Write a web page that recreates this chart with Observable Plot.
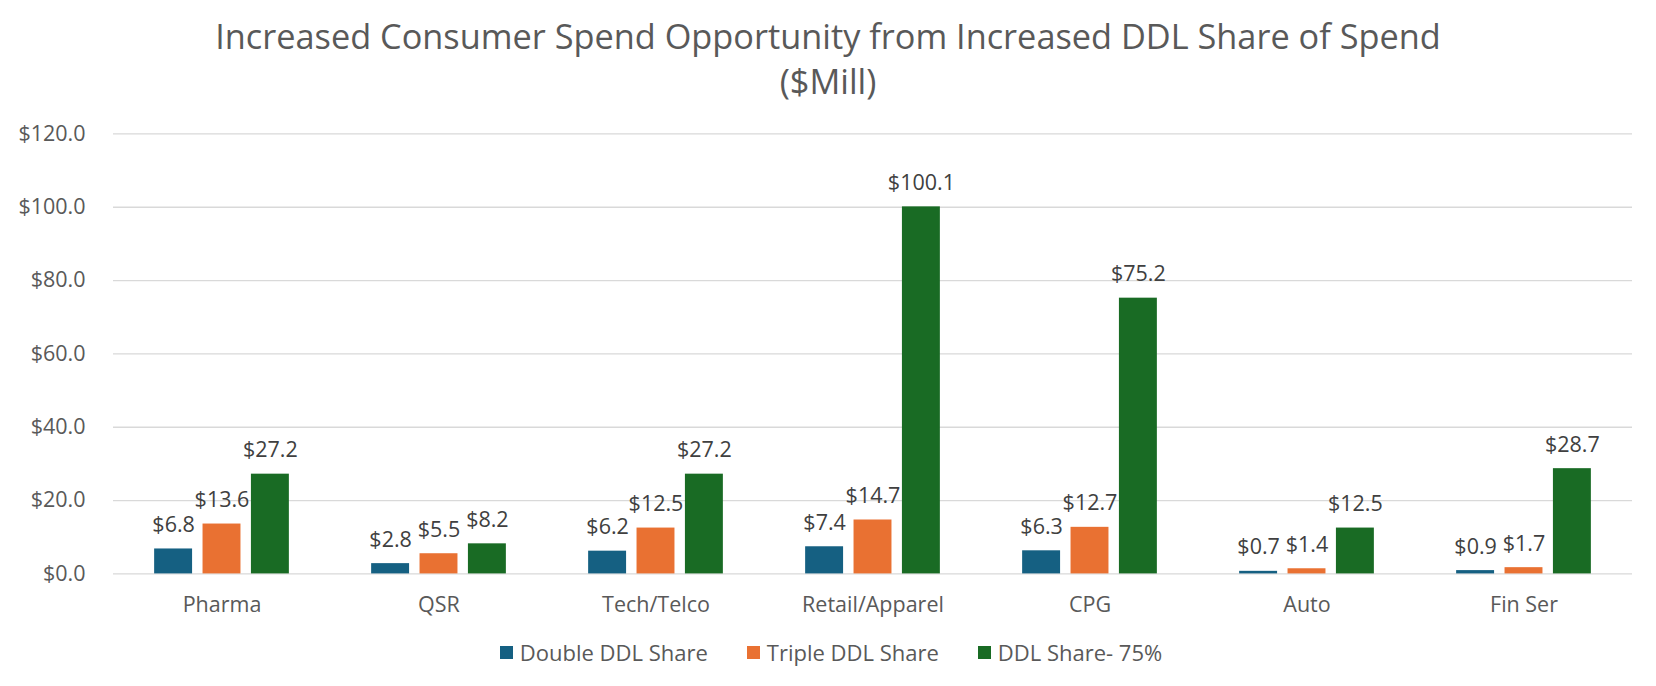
<!DOCTYPE html>
<html><head><meta charset="utf-8">
<script src="https://cdn.jsdelivr.net/npm/d3@7"></script>
<script src="https://cdn.jsdelivr.net/npm/@observablehq/plot@0.6"></script>
<style>
body{margin:0;background:#fff;font-family:"Open Sans",sans-serif;}
#wrap{width:1656px;height:686px;position:relative;overflow:hidden;background:#fff}
#title{position:absolute;left:0;top:13px;width:1656px;text-align:center;font-size:34.3px;line-height:45px;color:#595959}
#chart{position:absolute;left:0;top:110px}
#legend{position:absolute;left:3px;top:640px;width:1656px;display:flex;justify-content:center;gap:39px;font-size:22px;color:#595959;line-height:24px}
.item{display:flex;align-items:center;white-space:pre}
.sw{width:13px;height:13px;margin-right:7px}
</style></head><body>
<div id="wrap">
<div id="title">Increased Consumer Spend Opportunity from Increased DDL Share of Spend<br>($Mill)</div>
<div id="chart"></div>
<div id="legend"></div>
</div>
<script>
const categories = ["Pharma","QSR","Tech/Telco","Retail/Apparel","CPG","Auto","Fin Ser"];
const seriesNames = ["Double DDL Share","Triple DDL Share","DDL Share- 75%"];
const doubleShare = [6.8, 2.8, 6.2, 7.4, 6.3, 0.7, 0.9];
const tripleShare = [13.6, 5.5, 12.5, 14.7, 12.7, 1.4, 1.7];
const share75 = [27.2, 8.2, 27.2, 100.1, 75.2, 12.5, 28.7];
const yTicks = [0, 20, 40, 60, 80, 100, 120];
const colors = ["#156082", "#E97132", "#196B24"];

const seriesValues = [doubleShare, tripleShare, share75];
const data = categories.flatMap((c, i) => seriesNames.map((s, j) => ({category: c, series: s, value: seriesValues[j][i]})));

const plot = Plot.plot({
  width: 1656, height: 510,
  marginLeft: 111, marginRight: 22, marginTop: 23.4, marginBottom: 46.6,
  style: {fontFamily: '"Open Sans", sans-serif', background: "transparent", overflow: "visible"},
  fx: {domain: categories, padding: 0, label: null},
  x: {domain: seriesNames, paddingInner: 0.216, paddingOuter: 0.85, round: false, axis: null},
  y: {domain: [0, 120], label: null},
  color: {domain: seriesNames, range: colors},
  marks: [
    Plot.gridY(yTicks, {stroke: "#d9d9d9", strokeOpacity: 1, strokeWidth: 1.3}),
    Plot.barY(data, {fx: "category", x: "series", y: "value", fill: "series"}),
    Plot.text(data, {fx: "category", x: "series", y: "value", text: d => "$" + d.value.toFixed(1), dy: -17, lineAnchor: "bottom", fontSize: 21.5, fill: "#404040"}),
    Plot.axisY(yTicks, {tickSize: 0, tickPadding: 28, tickFormat: d => "$" + d.toFixed(1), fontSize: 21.5, fill: "#595959", label: null}),
    Plot.axisFx({anchor: "bottom", tickSize: 0, tickPadding: 22.4, fontSize: 21.5, fill: "#595959", label: null})
  ]
});
document.getElementById("chart").appendChild(plot);

const legend = document.getElementById("legend");
seriesNames.forEach((s, i) => {
  const item = document.createElement("div");
  item.className = "item";
  const sw = document.createElement("span");
  sw.className = "sw";
  sw.style.background = colors[i];
  const t = document.createElement("span");
  t.textContent = s;
  item.appendChild(sw); item.appendChild(t);
  legend.appendChild(item);
});
</script>
</body></html>
